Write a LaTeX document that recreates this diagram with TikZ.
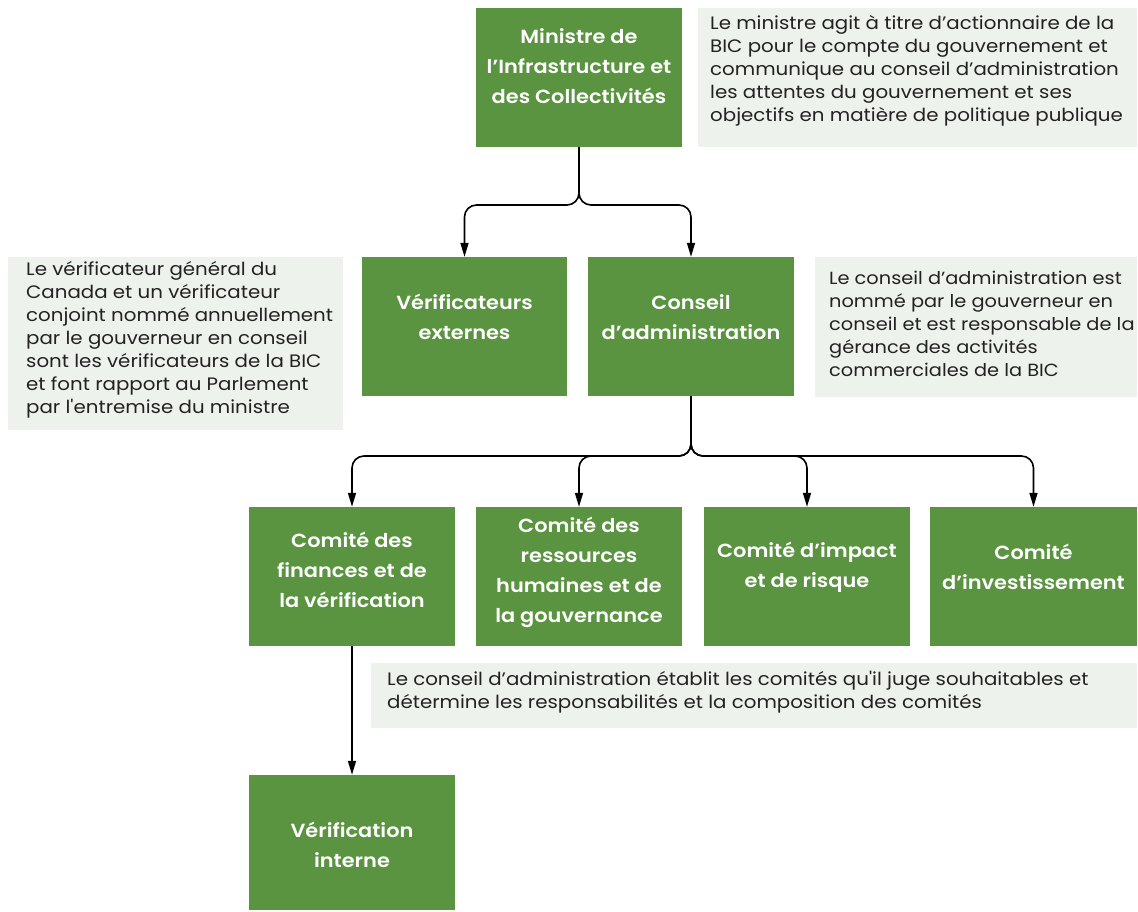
\documentclass[tikz,border=0pt]{standalone}
\usepackage{fontspec}
\setmainfont{Poppins}[BoldFont={Poppins SemiBold}]
\newfontfamily\notefont{Poppins}[FakeStretch=1.1]
\newfontfamily\boxfont{Poppins SemiBold}[FakeStretch=1.1]
\usetikzlibrary{arrows.meta}
\definecolor{gfill}{HTML}{5A9441}
\definecolor{nfill}{HTML}{EEF2EC}
\definecolor{ntext}{HTML}{222222}
\tikzset{
  gbox/.style={rectangle, fill=gfill, inner sep=0pt},
  btext/.style={text=white, align=center, font=\boxfont\fontsize{19}{30}\selectfont, inner sep=0pt},
  nbox/.style={rectangle, fill=nfill, inner sep=0pt},
  ntxt/.style={text=ntext, align=left, anchor=west, font=\notefont\fontsize{18}{23}\selectfont, inner sep=0pt},
  arr/.style={draw=black, line width=1.6pt, rounded corners=12pt, -{Triangle[length=14pt,width=8pt]}},
}
\begin{document}
\begin{tikzpicture}[x=1pt,y=-1pt]
\useasboundingbox (0,0) rectangle (1138,911);
% green boxes
\node[gbox, minimum width=206pt, minimum height=139pt] (m) at (579,77.5) {};
\node[btext] (mt) at (579,66) {Ministre de\\l’Infrastructure et\\des Collectivités};
\node[gbox, minimum width=205pt, minimum height=139pt] (v) at (464.5,326.5) {};
\node[btext] (vt) at (464.5,317) {Vérificateurs\\externes};
\node[gbox, minimum width=206pt, minimum height=139pt] (c) at (691,326.5) {};
\node[btext] (ct) at (691,317) {Conseil\\d’administration};
\node[gbox, minimum width=206pt, minimum height=139pt] (f) at (352,576.5) {};
\node[btext] (ft) at (352,570) {Comité des\\finances et de\\la vérification};
\node[gbox, minimum width=206pt, minimum height=139pt] (h) at (579,576.5) {};
\node[btext] (ht) at (579,572) {Comité des\\ressources\\humaines et de\\la gouvernance};
\node[gbox, minimum width=206pt, minimum height=139pt] (r) at (807,576.5) {};
\node[btext] (rt) at (807,567) {Comité d’impact\\et de risque};
\node[gbox, minimum width=207pt, minimum height=139pt] (i) at (1033.5,576.5) {};
\node[btext] (it) at (1033.5,567) {Comité\\d’investissement};
\node[gbox, minimum width=206pt, minimum height=135pt] (vi) at (352,842.5) {};
\node[btext] (vit) at (352,845) {Vérification\\interne};
% notes
\node[nbox, minimum width=439pt, minimum height=139pt] (n1) at (917.5,77.5) {};
\node[ntxt] (n1t) at (710,71) {Le ministre agit à titre d’actionnaire de la\\BIC pour le compte du gouvernement et\\communique au conseil d’administration\\les attentes du gouvernement et ses\\objectifs en matière de politique publique};
\node[nbox, minimum width=335pt, minimum height=173pt] (n2) at (175.5,343.5) {};
\node[ntxt] (n2t) at (26,340) {Le vérificateur général du\\Canada et un vérificateur\\conjoint nommé annuellement\\par le gouverneur en conseil\\sont les vérificateurs de la BIC\\et font rapport au Parlement\\par l'entremise du ministre};
\node[nbox, minimum width=322pt, minimum height=140pt] (n3) at (976,327) {};
\node[ntxt, font=\notefont\fontsize{17.6}{23}\selectfont] (n3t) at (829,324) {Le conseil d’administration est\\nommé par le gouverneur en\\conseil et est responsable de la\\gérance des activités\\commerciales de la BIC};
\node[nbox, minimum width=766pt, minimum height=65pt] (n4) at (754,695.5) {};
\node[ntxt] (n4t) at (387,692) {Le conseil d’administration établit les comités qu'il juge souhaitables et\\détermine les responsabilités et la composition des comités};
% junctions
\coordinate (j1) at (579,205);
\coordinate (j2) at (691,456);
% connectors
\draw[arr] (m.south) -- (m.south |- j1) -- (v.north |- j1) -- (v.north);
\draw[arr] (m.south) -- (m.south |- j1) -- (c.north |- j1) -- (c.north);
\draw[arr] (c.south) -- (c.south |- j2) -- (f.north |- j2) -- (f.north);
\draw[arr] (c.south) -- (c.south |- j2) -- (h.north |- j2) -- (h.north);
\draw[arr] (c.south) -- (c.south |- j2) -- (r.north |- j2) -- (r.north);
\draw[arr] (c.south) -- (c.south |- j2) -- (i.north |- j2) -- (i.north);
\draw[arr] (f.south) -- (vi.north);
\end{tikzpicture}
\end{document}
